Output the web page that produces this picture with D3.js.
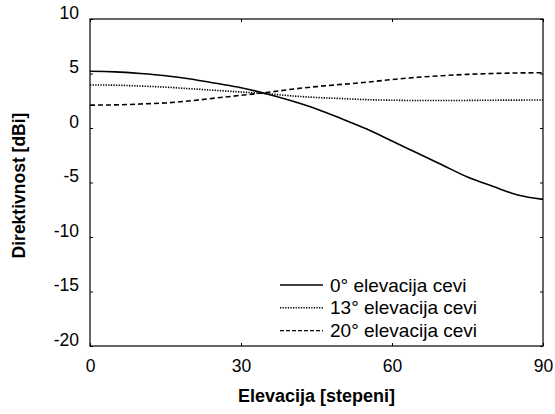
<!doctype html>
<html>
<head>
<meta charset="UTF-8">
<script src="https://d3js.org/d3.v7.min.js"></script>
<style>
  body { margin: 0; background: #fff; }
  text { font-family: "Liberation Sans", Arial, sans-serif; fill: #000; }
</style>
</head>
<body>
<div id="graf"></div>
<script>
// elevacija [stepeni]
var elevacija = [0, 5, 10, 15, 20, 25, 30, 35, 40, 45, 50, 55, 60, 65, 70, 75, 80, 85, 90];
// direktivnost [dBi] za tri elevacije cevi
var cev0  = [5.2, 5.15, 5.0, 4.8, 4.5, 4.1, 3.7, 3.15, 2.5, 1.75, 0.85, -0.1, -1.2, -2.3, -3.4, -4.5, -5.35, -6.15, -6.55];
var cev13 = [3.95, 3.93, 3.85, 3.75, 3.6, 3.45, 3.3, 3.15, 2.95, 2.8, 2.7, 2.6, 2.55, 2.52, 2.52, 2.53, 2.55, 2.56, 2.57];
var cev20 = [2.1, 2.12, 2.2, 2.3, 2.5, 2.75, 3.0, 3.25, 3.55, 3.8, 4.0, 4.2, 4.45, 4.65, 4.8, 4.92, 5.0, 5.05, 5.07];
var nazivi = ["0\u00b0 elevacija cevi", "13\u00b0 elevacija cevi", "20\u00b0 elevacija cevi"];
var xTicks = [0, 30, 60, 90];
var yTicks = [-20, -15, -10, -5, 0, 5, 10];

var serije = [
  {naziv: nazivi[0], vrednosti: cev0, dash: null, legDash: null},
  {naziv: nazivi[1], vrednosti: cev13, dash: "1.3,1.3", legDash: "1.3,1.3"},
  {naziv: nazivi[2], vrednosti: cev20, dash: "5,3", legDash: "4,2"}
];

var margin = {top: 19, right: 12, bottom: 68, left: 90},
    width_total = 555,
    height_total = 414,
    width = width_total - margin.left - margin.right,
    height = height_total - margin.top - margin.bottom;

var svg = d3.select("#graf")
  .append("svg")
    .attr("width", width_total)
    .attr("height", height_total)
  .append("g")
    .attr("transform", "translate(" + margin.left + "," + margin.top + ")");

var x = d3.scaleLinear().domain([0, 90]).range([0, width]);
var y = d3.scaleLinear().domain([-20, 10]).range([height, 0]);

// obican crtica umesto unicode minusa
var fmt = d => String(d);

// okvir
svg.append("rect")
  .attr("width", width).attr("height", height)
  .attr("fill", "none").attr("stroke", "#000").attr("stroke-width", 1.2);

// podeoci ka unutra
var tl = 3;
svg.append("g").attr("transform", "translate(0," + height + ")")
  .call(d3.axisBottom(x).tickValues(xTicks).tickSizeInner(-tl).tickSizeOuter(0).tickPadding(14).tickFormat(fmt))
  .call(g => g.select(".domain").remove())
  .call(g => g.selectAll("text").attr("font-size", 17.5).attr("font-family", "Liberation Sans, Arial"));
svg.append("g")
  .call(d3.axisTop(x).tickValues(xTicks).tickSizeInner(-tl).tickSizeOuter(0).tickFormat(""))
  .call(g => g.select(".domain").remove());
svg.append("g")
  .call(d3.axisLeft(y).tickValues(yTicks).tickSizeInner(-tl).tickSizeOuter(0).tickPadding(11).tickFormat(fmt))
  .call(g => g.select(".domain").remove())
  .call(g => g.selectAll("text").attr("font-size", 17.5).attr("font-family", "Liberation Sans, Arial").attr("dy", "-0.05em"));
svg.append("g").attr("transform", "translate(" + width + ",0)")
  .call(d3.axisRight(y).tickValues(yTicks).tickSizeInner(-tl).tickSizeOuter(0).tickFormat(""))
  .call(g => g.select(".domain").remove());

// krive
var linija = d3.line()
  .x((d, i) => x(elevacija[i]))
  .y(d => y(d))
  .curve(d3.curveMonotoneX);

svg.append("g").selectAll("path")
  .data(serije)
  .enter()
  .append("path")
    .attr("d", d => linija(d.vrednosti))
    .attr("fill", "none")
    .attr("stroke", "#000")
    .attr("stroke-width", 1.6)
    .attr("stroke-dasharray", d => d.dash);

// legenda
var leg = svg.append("g").attr("transform", "translate(190,266)");
var red = leg.selectAll("g")
  .data(serije)
  .enter()
  .append("g")
    .attr("transform", (d, i) => "translate(0," + (i * 22.8) + ")");
red.append("line")
  .attr("x1", 0).attr("x2", 43)
  .attr("stroke", "#000").attr("stroke-width", 1.4)
  .attr("stroke-dasharray", d => d.legDash);
red.append("text")
  .attr("x", 50).attr("dy", "0.35em")
  .attr("font-size", 19)
  .text(d => d.naziv);

// naslovi osa
svg.append("text")
  .attr("x", width / 2).attr("y", height + 56)
  .attr("text-anchor", "middle")
  .attr("font-size", 18).attr("font-weight", "bold")
  .text("Elevacija [stepeni]");
svg.append("text")
  .attr("transform", "rotate(-90)")
  .attr("x", -height / 2 - 3).attr("y", -65)
  .attr("text-anchor", "middle")
  .attr("font-size", 17.5).attr("font-weight", "bold")
  .text("Direktivnost [dBi]");
</script>
</body>
</html>
